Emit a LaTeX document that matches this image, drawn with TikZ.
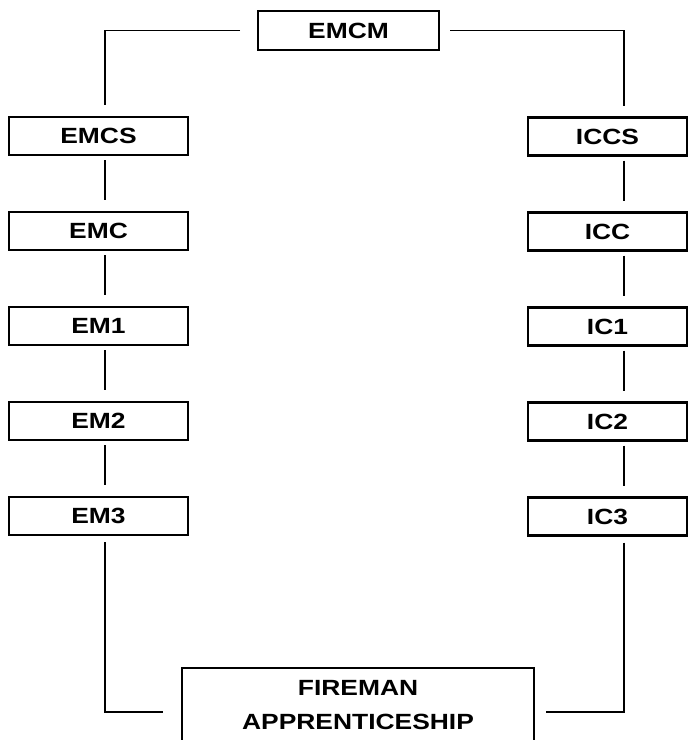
\documentclass[tikz,border=0pt]{standalone}
\usepackage{fontspec}
\setmainfont{Liberation Sans}[FakeStretch=1.2]
\usetikzlibrary{positioning}

\begin{document}
\begin{tikzpicture}[
    x=0.75pt, y=-0.75pt,
    font=\fontsize{16.5pt}{25.5pt}\selectfont\bfseries,
    node distance=42.75pt,
    box/.style={draw, line width=1.8pt, inner sep=0pt, outer sep=0pt,
                minimum height=28.5pt, align=center},
    lbox/.style={box, minimum width=134.25pt},
    rbox/.style={box, minimum width=119.25pt},
    link/.style={line width=1.2pt}
  ]
    \useasboundingbox (0,0) rectangle (691,740);
    \clip (0,0) rectangle (691,740);
    \coordinate (lcol) at (105,0);
    \coordinate (rcol) at (624,0);
    % top and bottom
    \node[box, minimum width=135.75pt, minimum height=29.25pt] (emcm) at (348.5,30.5) {EMCM};
    \node[box, minimum width=264pt, minimum height=55.5pt] (fire) at (358,705) {FIREMAN\\APPRENTICESHIP};
    % left branch
    \node[lbox] (emcs) at (98.5,136) {EMCS};
    \node[lbox, below=of emcs] (emc) {EMC};
    \node[lbox, below=of emc] (em1) {EM1};
    \node[lbox, below=of em1] (em2) {EM2};
    \node[lbox, below=of em2] (em3) {EM3};
    % right branch
    \node[rbox] (iccs) at (607.5,136.5) {ICCS};
    \node[rbox, below=of iccs] (icc) {ICC};
    \node[rbox, below=of icc] (ic1) {IC1};
    \node[rbox, below=of ic1] (ic2) {IC2};
    \node[rbox, below=of ic2] (ic3) {IC3};
    % connectors
    \draw[link, shorten <=13.5pt, shorten >=9pt] (emcm.west) -| (emcs.north -| lcol);
    \draw[link, shorten <=8.25pt, shorten >=9pt] (emcm.east) -| (iccs.north -| rcol);
    \foreach \a/\b in {emcs/emc, emc/em1, em1/em2, em2/em3}
      \draw[link, shorten <=3.75pt, shorten >=9pt] (\a.south -| lcol) -- (\b.north -| lcol);
    \foreach \a/\b in {iccs/icc, icc/ic1, ic1/ic2, ic2/ic3}
      \draw[link, shorten <=3.75pt, shorten >=9pt] (\a.south -| rcol) -- (\b.north -| rcol);
    \draw[link, shorten <=5.25pt, shorten >=14.25pt] (em3.south -| lcol) |- ([yshift=-5.25pt]fire.west);
    \draw[link, shorten <=5.25pt, shorten >=9pt] (ic3.south -| rcol) |- ([yshift=-5.25pt]fire.east);
\end{tikzpicture}
\end{document}
